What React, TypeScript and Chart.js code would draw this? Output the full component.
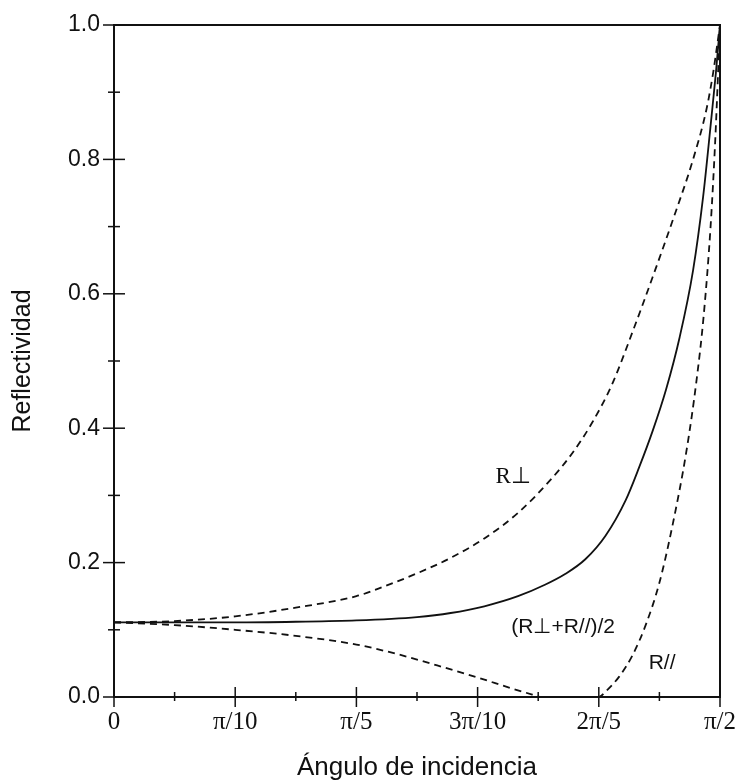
import { useEffect, useRef } from 'react';
import { Chart, registerables } from 'chart.js';

Chart.register(...registerables);

// Angles in degrees (0 .. 90 = 0 .. π/2)
const perpAngles = [0, 9, 18, 27, 36, 40, 45, 50, 55, 60, 65, 68, 71, 74, 77, 80, 83, 86, 88, 89, 90];
const perpValues = [0.111, 0.113, 0.12, 0.133, 0.15, 0.164, 0.184, 0.207, 0.236, 0.274, 0.325, 0.362, 0.408, 0.466, 0.543, 0.625, 0.71, 0.8, 0.875, 0.93, 1.0];

const avgAngles = [0, 9, 18, 27, 36, 45, 50, 55, 60, 64, 67, 70, 73, 76, 78, 80, 82, 84, 86, 87.5, 88.6, 89.4, 90];
const avgValues = [0.111, 0.111, 0.111, 0.112, 0.114, 0.119, 0.125, 0.135, 0.15, 0.167, 0.183, 0.205, 0.24, 0.293, 0.342, 0.396, 0.458, 0.535, 0.635, 0.745, 0.85, 0.93, 1.0];

const parAngles = [0, 9, 18, 27, 36, 42, 48, 54, 59, 62, 63.5, 68, 72, 73, 75, 77, 79, 81, 83, 85, 86.5, 87.6, 88.6, 89.3, 89.8, 90];
const parValues = [0.111, 0.107, 0.1, 0.091, 0.078, 0.064, 0.047, 0.029, 0.013, 0.004, 0, 0, 0, 0.008, 0.03, 0.062, 0.108, 0.17, 0.258, 0.365, 0.47, 0.57, 0.7, 0.83, 0.95, 1.0];

const xTickValues = [0, 9, 18, 27, 36, 45, 54, 63, 72, 81, 90];
const xTickLabels = ['0', '', 'π/10', '', 'π/5', '', '3π/10', '', '2π/5', '', 'π/2'];
const yTickValues = [0, 0.1, 0.2, 0.3, 0.4, 0.5, 0.6, 0.7, 0.8, 0.9, 1.0];
const yTickLabels = ['0.0', '', '0.2', '', '0.4', '', '0.6', '', '0.8', '', '1.0'];

const curveLabels = ['R⊥', '(R⊥+R//)/2', 'R//'];
const curveLabelAngles = [59.3, 66.7, 81.4];
const curveLabelValues = [0.327, 0.104, 0.051];
const curveLabelFonts = ['23px "Liberation Serif"', '21px "Liberation Sans"', '21px "Liberation Sans"'];

const INK = '#111111';

const framePlugin = {
  id: 'frameTicks',
  afterDatasetsDraw(chart: any) {
    const { ctx, chartArea, scales } = chart;
    const xs = scales.x;
    const ys = scales.y;
    ctx.save();
    ctx.strokeStyle = INK;
    ctx.lineWidth = 2;
    ctx.strokeRect(chartArea.left, chartArea.top, chartArea.right - chartArea.left, chartArea.bottom - chartArea.top);
    ctx.lineWidth = 1.5;
    xTickValues.forEach((v, i) => {
      const px = xs.getPixelForValue(v);
      const major = xTickLabels[i] !== '';
      const up = major ? 10 : 5;
      const down = major ? 10 : 4;
      ctx.beginPath();
      ctx.moveTo(px, chartArea.bottom - up);
      ctx.lineTo(px, chartArea.bottom + down);
      ctx.stroke();
    });
    yTickValues.forEach((v, i) => {
      const py = ys.getPixelForValue(v);
      const major = yTickLabels[i] !== '';
      const out = major ? 11 : 6;
      const inn = major ? 11 : 6;
      ctx.beginPath();
      ctx.moveTo(chartArea.left - out, py);
      ctx.lineTo(chartArea.left + inn, py);
      ctx.stroke();
    });
    ctx.fillStyle = INK;
    ctx.textAlign = 'center';
    ctx.textBaseline = 'middle';
    curveLabels.forEach((t, i) => {
      ctx.font = curveLabelFonts[i];
      ctx.fillText(t, xs.getPixelForValue(curveLabelAngles[i]), ys.getPixelForValue(curveLabelValues[i]));
    });
    ctx.restore();
  },
};

export default function App() {
  const ref = useRef<HTMLCanvasElement | null>(null);
  useEffect(() => {
    document.body.style.margin = '0';
    const canvas = ref.current;
    if (!canvas) return;
    const toPts = (a: number[], v: number[]) => a.map((x, i) => ({ x, y: v[i] }));
    const chart = new Chart(canvas, {
      type: 'line',
      data: {
        datasets: [
          {
            label: 'R⊥',
            data: toPts(perpAngles, perpValues),
            borderColor: INK,
            borderWidth: 1.8,
            borderDash: [7, 5],
            pointRadius: 0,
            cubicInterpolationMode: 'monotone',
            fill: false,
          },
          {
            label: '(R⊥+R//)/2',
            data: toPts(avgAngles, avgValues),
            borderColor: INK,
            borderWidth: 1.8,
            pointRadius: 0,
            cubicInterpolationMode: 'monotone',
            fill: false,
          },
          {
            label: 'R//',
            data: toPts(parAngles, parValues),
            borderColor: INK,
            borderWidth: 1.8,
            borderDash: [7, 5],
            pointRadius: 0,
            cubicInterpolationMode: 'monotone',
            fill: false,
          },
        ],
      },
      options: {
        responsive: false,
        animation: false,
        layout: { padding: { top: 25, right: 23, left: 0, bottom: 0 } },
        plugins: { legend: { display: false }, tooltip: { enabled: false } },
        scales: {
          x: {
            type: 'linear',
            min: 0,
            max: 90,
            grid: { display: false, drawTicks: false },
            border: { display: false },
            afterBuildTicks: (s: any) => {
              s.ticks = xTickValues.map((v) => ({ value: v }));
            },
            afterFit: (s: any) => {
              s.height = 86;
              s.paddingLeft = 0;
              s.paddingRight = 0;
            },
            ticks: {
              autoSkip: false,
              maxRotation: 0,
              padding: 10,
              color: INK,
              font: { family: '"Liberation Serif"', size: 25 },
              callback: (_v: any, i: number) => xTickLabels[i],
            },
            title: {
              display: true,
              text: 'Ángulo de incidencia',
              color: INK,
              font: { family: '"Liberation Sans"', size: 26 },
              padding: { top: 0, bottom: 0 },
            },
          },
          y: {
            type: 'linear',
            min: 0,
            max: 1,
            grid: { display: false, drawTicks: false },
            border: { display: false },
            afterBuildTicks: (s: any) => {
              s.ticks = yTickValues.map((v) => ({ value: v }));
            },
            afterFit: (s: any) => {
              s.width = 114;
              s.paddingTop = 0;
              s.paddingBottom = 0;
            },
            ticks: {
              autoSkip: false,
              padding: 14,
              color: INK,
              font: { family: '"Liberation Sans"', size: 23 },
              callback: (_v: any, i: number) => yTickLabels[i],
            },
            title: {
              display: true,
              text: 'Reflectividad',
              color: INK,
              font: { family: '"Liberation Sans"', size: 25 },
              padding: { top: 8, bottom: 0 },
            },
          },
        },
      },
      plugins: [framePlugin],
    } as any);
    return () => chart.destroy();
  }, []);
  return (
    <div style={{ width: 743, height: 783, background: '#ffffff', overflow: 'hidden' }}>
      <canvas ref={ref} width={743} height={783} style={{ display: 'block' }} />
    </div>
  );
}
